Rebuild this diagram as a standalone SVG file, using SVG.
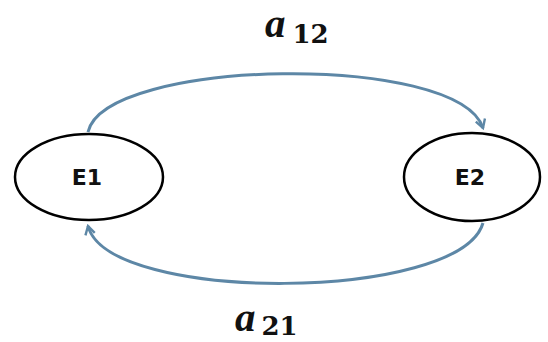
<svg xmlns="http://www.w3.org/2000/svg" width="548" height="342" viewBox="0 0 548 342">
<defs>
<style>
.node{fill:#fff;stroke:#000;stroke-width:2.5}
.lbl{font-family:"DejaVu Sans","Liberation Sans",sans-serif;font-weight:bold;font-size:22px;fill:#111}
.arc{fill:none;stroke:#5d87a6;stroke-width:3}
.eq{font-family:"Liberation Serif","DejaVu Serif",serif;font-weight:bold;fill:#111}
.math{font-style:italic;font-size:41px}
.sub{font-family:"DejaVu Serif","Liberation Serif",serif;font-style:normal;font-size:26px}
</style>
<marker id="ah" viewBox="0 0 10 10" refX="8" refY="5" markerWidth="4" markerHeight="4" orient="auto" markerUnits="strokeWidth">
<path d="M1,1 L8,5 L1,9" fill="none" stroke="#5d87a6" stroke-width="2"/>
</marker>
</defs>
<rect width="548" height="342" fill="#fff"/>
<g id="connectors">
<path class="arc" d="M88,132 C105,58 458,52 483,128" marker-end="url(#ah)"/>
<path class="arc" d="M483,223 C460,302 108,304 88,226" marker-end="url(#ah)"/>
</g>
<g id="E1">
<ellipse class="node" cx="89" cy="177" rx="74" ry="43"/>
<text class="lbl" x="87" y="185" text-anchor="middle">E1</text>
</g>
<g id="E2">
<ellipse class="node" cx="472" cy="177" rx="68" ry="44"/>
<text class="lbl" x="470" y="185" text-anchor="middle">E2</text>
</g>
<g id="label-a12">
<text class="eq" x="265" y="37"><tspan class="math">a</tspan><tspan class="sub" dx="7" dy="6">12</tspan></text>
</g>
<g id="label-a21">
<text class="eq" x="235" y="331"><tspan class="math">a</tspan><tspan class="sub" dx="6" dy="4">21</tspan></text>
</g>
</svg>
